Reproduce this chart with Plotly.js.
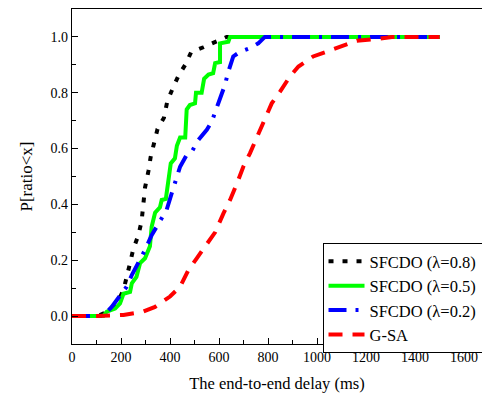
<!DOCTYPE html>
<html>
<head>
<meta charset="utf-8">
<script src="https://cdn.plot.ly/plotly-3.0.1.min.js"></script>
<style>html,body{margin:0;padding:0;background:#fff;}#chart{width:482px;height:393px;}</style>
</head>
<body>
<div id="chart"></div>
<script>
// SFCDO (lambda=0.8)
const x08 = [0, 103, 155, 186, 210, 223, 237, 250, 271, 284, 291, 298, 312, 321, 335, 349, 375, 389, 413, 434, 462, 486, 536, 584, 631, 1500];
const y08 = [0, 0, 0.02, 0.05, 0.093, 0.135, 0.19, 0.24, 0.29, 0.34, 0.40, 0.46, 0.52, 0.57, 0.62, 0.67, 0.71, 0.77, 0.82, 0.86, 0.90, 0.945, 0.963, 0.983, 1.0, 1.0];
// SFCDO (lambda=0.5)
const x05 = [0, 128, 142, 176, 196, 210, 237, 244, 263, 278, 298, 318, 325, 339, 359, 366, 383, 393, 403, 420, 428, 441, 462, 468, 481, 502, 506, 529, 539, 557, 576, 584, 604, 604, 638, 645, 1500];
const y05 = [0, 0, 0.016, 0.027, 0.045, 0.08, 0.087, 0.117, 0.14, 0.19, 0.207, 0.25, 0.32, 0.37, 0.39, 0.416, 0.42, 0.49, 0.547, 0.565, 0.61, 0.64, 0.64, 0.74, 0.756, 0.762, 0.80, 0.80, 0.85, 0.865, 0.87, 0.906, 0.91, 0.977, 0.983, 1.0, 1.0];
// SFCDO (lambda=0.2)
const x02 = [0, 128, 162, 189, 223, 244, 271, 298, 325, 359, 386, 407, 420, 441, 468, 489, 515, 550, 570, 591, 604, 624, 638, 658, 686, 726, 760, 787, 1500];
const y02 = [0, 0, 0.033, 0.063, 0.105, 0.147, 0.19, 0.237, 0.29, 0.338, 0.38, 0.44, 0.475, 0.535, 0.577, 0.589, 0.63, 0.667, 0.696, 0.75, 0.786, 0.828, 0.876, 0.93, 0.947, 0.96, 0.977, 1.0, 1.0];
// G-SA
const xGSA = [0, 101, 210, 291, 339, 400, 441, 475, 509, 550, 584, 618, 645, 673, 699, 726, 760, 787, 815, 849, 889, 924, 984, 1039, 1121, 1162, 1250, 1305, 1500];
const yGSA = [0, 0, 0.004, 0.016, 0.033, 0.07, 0.105, 0.165, 0.207, 0.26, 0.30, 0.368, 0.416, 0.475, 0.535, 0.583, 0.649, 0.70, 0.762, 0.804, 0.858, 0.894, 0.93, 0.947, 0.971, 0.986, 0.993, 1.0, 1.0];

const names = ["SFCDO (\u03bb=0.8)", "SFCDO (\u03bb=0.5)", "SFCDO (\u03bb=0.2)", "G-SA"];
const xTicks = [0, 200, 400, 600, 800, 1000, 1200, 1400, 1600];
const yTicks = [0.0, 0.2, 0.4, 0.6, 0.8, 1.0];

const font = "Liberation Serif";

const traces = [
  {x: x08, y: y08, name: names[0], mode: "lines", line: {color: "#000000", width: 4, dash: "5px,9px"}},
  {x: x05, y: y05, name: names[1], mode: "lines", line: {color: "#00ff00", width: 4}},
  {x: x02, y: y02, name: names[2], mode: "lines", line: {color: "#0000ff", width: 4, dash: "18px,9px,3px,9px"}},
  {x: xGSA, y: yGSA, name: names[3], mode: "lines", line: {color: "#ff0000", width: 4, dash: "14px,10px"}}
];

const layout = {
  width: 482, height: 393,
  margin: {l: 72, r: 0, t: 9, b: 49, autoexpand: false},
  paper_bgcolor: "#ffffff", plot_bgcolor: "#ffffff",
  font: {family: font, size: 14, color: "#000000"},
  showlegend: true,
  legend: {
    x: 0.611, y: 0.3015, xanchor: "left", yanchor: "top",
    bordercolor: "#000000", borderwidth: 1, bgcolor: "#ffffff",
    font: {family: font, size: 16.5, color: "#000000"},
    itemwidth: 36,
    tracegroupgap: 0
  },
  xaxis: {
    range: [0, 1673], tickvals: xTicks, ticktext: xTicks.map(String),
    ticklabeloverflow: "allow",
    ticks: "inside", ticklen: 6, tickwidth: 1, tickcolor: "#000",
    minor: {ticks: "inside", ticklen: 4, dtick: 100, tick0: 0, tickcolor: "#000"},
    showline: true, linecolor: "#000", linewidth: 1.3, mirror: true,
    showgrid: false, zeroline: false,
    tickfont: {family: font, size: 14},
    title: {text: "The end-to-end delay (ms)", font: {family: font, size: 16.5}, standoff: 14}
  },
  yaxis: {
    range: [-0.1, 1.1], tickvals: yTicks, ticktext: yTicks.map(v => v.toFixed(1)),
    ticks: "inside", ticklen: 6, tickwidth: 1, tickcolor: "#000",
    minor: {ticks: "inside", ticklen: 4, dtick: 0.1, tick0: 0, tickcolor: "#000"},
    showline: true, linecolor: "#000", linewidth: 1.3, mirror: false,
    showgrid: false, zeroline: false,
    tickfont: {family: font, size: 14},
    title: {text: "P[ratio<x]", font: {family: font, size: 17}, standoff: 13}
  }
};

Plotly.newPlot("chart", traces, layout, {displayModeBar: false, staticPlot: true});
</script>
</body>
</html>
